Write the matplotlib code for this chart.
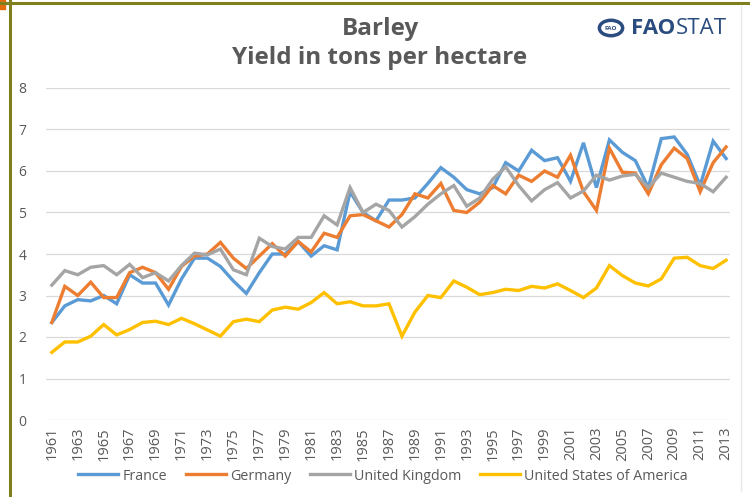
import numpy as np
import matplotlib
matplotlib.use("Agg")
import matplotlib.pyplot as plt
from matplotlib.lines import Line2D
from matplotlib.patches import Circle, Rectangle

plt.rcParams['font.family'] = ['Open Sans', 'DejaVu Sans']

# data
years = list(range(1961, 2014))

france = [2.35, 2.75, 2.9, 2.87, 3.0, 2.8, 3.5, 3.3, 3.3, 2.77,
          3.4, 3.9, 3.9, 3.7, 3.35, 3.05, 3.55, 4.0, 4.0, 4.3,
          3.95, 4.2, 4.1, 5.5, 5.0, 4.8, 5.3, 5.3, 5.35, 5.7,
          6.08, 5.85, 5.55, 5.45, 5.6, 6.2, 6.0, 6.5, 6.25, 6.32,
          5.75, 6.68, 5.6, 6.75, 6.45, 6.25, 5.6, 6.78, 6.82, 6.4,
          5.65, 6.72, 6.3]

germany = [2.35, 3.22, 3.0, 3.32, 2.95, 2.95, 3.55, 3.68, 3.55, 3.15,
           3.7, 3.95, 4.0, 4.28, 3.9, 3.65, 3.95, 4.25, 3.95, 4.3,
           4.05, 4.5, 4.4, 4.92, 4.95, 4.8, 4.65, 4.95, 5.45, 5.35,
           5.7, 5.05, 5.0, 5.25, 5.65, 5.45, 5.9, 5.75, 6.0, 5.85,
           6.38, 5.5, 5.05, 6.55, 5.97, 5.95, 5.45, 6.15, 6.55, 6.3,
           5.5, 6.2, 6.58]

uk = [3.25, 3.6, 3.5, 3.68, 3.72, 3.5, 3.75, 3.43, 3.55, 3.35,
      3.72, 4.02, 3.98, 4.12, 3.62, 3.5, 4.38, 4.18, 4.12, 4.4,
      4.4, 4.92, 4.7, 5.6, 5.0, 5.2, 5.05, 4.65, 4.9, 5.2,
      5.45, 5.65, 5.15, 5.35, 5.8, 6.1, 5.65, 5.28, 5.55, 5.72,
      5.35, 5.52, 5.9, 5.78, 5.88, 5.92, 5.6, 5.95, 5.85, 5.75,
      5.7, 5.5, 5.85]

usa = [1.63, 1.88, 1.88, 2.02, 2.3, 2.05, 2.18, 2.35, 2.38, 2.3,
       2.45, 2.32, 2.17, 2.02, 2.37, 2.43, 2.37, 2.65, 2.72, 2.67,
       2.83, 3.07, 2.8, 2.85, 2.75, 2.75, 2.8, 2.02, 2.6, 3.0,
       2.95, 3.35, 3.2, 3.02, 3.07, 3.15, 3.12, 3.22, 3.18, 3.28,
       3.12, 2.95, 3.18, 3.72, 3.48, 3.3, 3.23, 3.4, 3.9, 3.92,
       3.72, 3.65, 3.85]

names = ["France", "Germany", "United Kingdom", "United States of America"]
colors = ["#5B9BD5", "#ED7D31", "#A5A5A5", "#FFC000"]
txt = "#595959"

fig = plt.figure(figsize=(7.5, 4.97), dpi=100)
ax = fig.add_axes([46/750, 77/497, 684/750, 332/497])

for vals, name, c in zip([france, germany, uk, usa], names, colors):
    ax.plot(years, vals, color=c, lw=2.4, label=name, solid_joinstyle='miter')

ax.set_ylim(0, 8)
ax.set_xlim(1960.55, 2013.3)
ax.set_yticks(range(0, 9))
ax.set_xticks(years[::2])
ax.set_xticklabels([str(y) for y in years[::2]], rotation=90)
ax.tick_params(axis='both', length=0, colors=txt)
ax.tick_params(axis='y', pad=14, labelsize=10)
ax.tick_params(axis='x', pad=5, labelsize=10.5)
ax.grid(axis='y', color='#D9D9D9', lw=0.9)
ax.set_axisbelow(True)
for s in ax.spines.values():
    s.set_visible(False)

# titles
fig.text(380/750, 1 - 29/497, "Barley", ha='center', va='center',
         fontsize=17.5, fontweight='bold', color=txt)
fig.text(380/750, 1 - 58/497, "Yield in tons per hectare", ha='center', va='center',
         fontsize=17.5, fontweight='bold', color=txt)

# FAOSTAT logo
navy = "#2B4C7E"
logo = Circle((611/750, 1 - 28/497), 0.0155, transform=fig.transFigure,
              facecolor='white', edgecolor=navy, lw=2.5)
fig.add_artist(logo)
fig.text(611/750, 1 - 28/497, "FAO", ha='center', va='center', fontsize=4.5,
         color=navy, fontweight='bold')
fig.text(631/750, 1 - 28/497, "FAO", ha='left', va='center', fontsize=16,
         color=navy, fontweight='bold')
fig.text(676/750, 1 - 28/497, "STAT", ha='left', va='center', fontsize=16,
         color=navy)

# legend
handles = [Line2D([0], [0], color=c, lw=2.4) for c in colors]
fig.legend(handles, names, loc='center', bbox_to_anchor=(383/750, 1 - 476/497),
           ncol=4, frameon=False, fontsize=10.3, labelcolor=txt,
           handlelength=2.8, columnspacing=1.3, handletextpad=0.3)

# slide frame
fig.add_artist(Line2D([10/750, 10/750], [0, 1], transform=fig.transFigure,
                      color='#7F7F20', lw=2.2))
fig.add_artist(Line2D([0, 1], [1 - 3/497, 1 - 3/497], transform=fig.transFigure,
                      color='#7F7F20', lw=2.2))
fig.add_artist(Rectangle((0, 1 - 9/497), 5/750, 9/497, transform=fig.transFigure,
                         color='#E46C0A'))
fig.add_artist(Line2D([741/750, 741/750], [6/497, 1 - 6/497], transform=fig.transFigure,
                      color='#E8E8E8', lw=1))

fig.savefig("out.png", dpi=100)
